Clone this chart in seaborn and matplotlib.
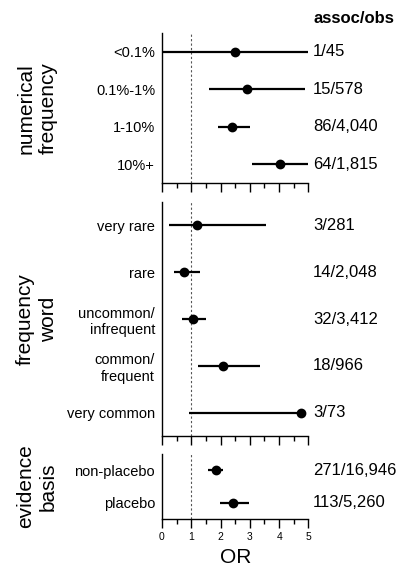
import numpy as np
import pandas as pd
import seaborn as sb
import matplotlib.pyplot as plt
from matplotlib.ticker import MultipleLocator

# numerical frequency
num_labels = ['<0.1%', '0.1%-1%', '1-10%', '10%+']
num_or = [2.5, 2.91, 2.4, 4.04]
num_lo = [0.0, 1.6, 1.9, 3.07]
num_hi = [5.0, 4.87, 3.0, 5.0]
num_counts = ['1/45', '15/578', '86/4,040', '64/1,815']

# frequency word
word_labels = ['very rare', 'rare', 'uncommon/\ninfrequent', 'common/\nfrequent', 'very common']
word_or = [1.2, 0.76, 1.05, 2.09, 4.73]
word_lo = [0.24, 0.41, 0.69, 1.24, 0.93]
word_hi = [3.54, 1.3, 1.5, 3.34, 4.73]
word_counts = ['3/281', '14/2,048', '32/3,412', '18/966', '3/73']

# evidence basis
ev_labels = ['non-placebo', 'placebo']
ev_or = [1.83, 2.43]
ev_lo = [1.58, 1.98]
ev_hi = [2.07, 2.98]
ev_counts = ['271/16,946', '113/5,260']

sb.set_style('ticks')
plt.rcParams['font.family'] = ['Liberation Sans', 'DejaVu Sans']
plt.rcParams.update({'text.color': 'black', 'axes.labelcolor': 'black',
                     'xtick.color': 'black', 'ytick.color': 'black'})

fig = plt.figure(figsize=(3.99, 5.67), dpi=100)

panels = [
    ('numerical\nfrequency', num_labels, num_or, num_lo, num_hi, num_counts, [0.406, 0.677, 0.367, 0.2646]),
    ('frequency\nword', word_labels, word_or, word_lo, word_hi, word_counts, [0.406, 0.231, 0.367, 0.4127]),
    ('evidence\nbasis', ev_labels, ev_or, ev_lo, ev_hi, ev_counts, [0.406, 0.0847, 0.367, 0.1146]),
]

axes = []
for group, labels, ors, lo, hi, counts, rect in panels:
    ax = fig.add_axes(rect)
    df = pd.DataFrame({'label': labels, 'OR': ors, 'lo': lo, 'hi': hi})
    pos = np.arange(len(df))
    ax.axvline(1, color='#555555', lw=0.8, ls=(0, (2, 2)), zorder=1)
    ax.hlines(pos, df['lo'], df['hi'], color='black', lw=1.6, zorder=2)
    sb.pointplot(data=df, x='OR', y='label', orient='h', linestyle='none',
                 errorbar=None, color='black', markersize=5, ax=ax, zorder=3)
    ax.set_xlim(0, 5)
    ax.set_ylim(len(df) - 0.5, -0.5)
    ax.xaxis.set_major_locator(MultipleLocator(1))
    ax.xaxis.set_minor_locator(MultipleLocator(0.5))
    ax.tick_params(axis='x', which='major', length=6.5, width=1, color='black', labelsize=7.5, pad=3)
    ax.tick_params(axis='x', which='minor', length=3.5, width=1, color='black')
    ax.tick_params(axis='y', length=0, labelsize=10.5, pad=5, labelcolor='black')
    ax.set_xlabel('')
    ax.set_ylabel('')
    for s in ['top', 'right']:
        ax.spines[s].set_visible(False)
    for s in ['left', 'bottom']:
        ax.spines[s].set_linewidth(1)
        ax.spines[s].set_color('black')
    for y, c in zip(pos, counts):
        ax.text(1.032, y, c, transform=ax.get_yaxis_transform(), ha='left', va='center',
                fontsize=12, color='black')
    ax.text(-0.854, 0.5, group, transform=ax.transAxes, rotation=90, ha='center', va='center',
            fontsize=15, linespacing=1.25, color='black')
    axes.append(ax)

for ax in axes[:-1]:
    ax.set_xticklabels([])

axes[-1].set_xlabel('OR', fontsize=15, labelpad=4, color='black')
axes[0].text(1.032, 1.1, 'assoc/obs', transform=axes[0].transAxes, ha='left', va='center',
             fontsize=12, fontweight='bold', color='black')

fig.savefig('out.png', dpi=100)
